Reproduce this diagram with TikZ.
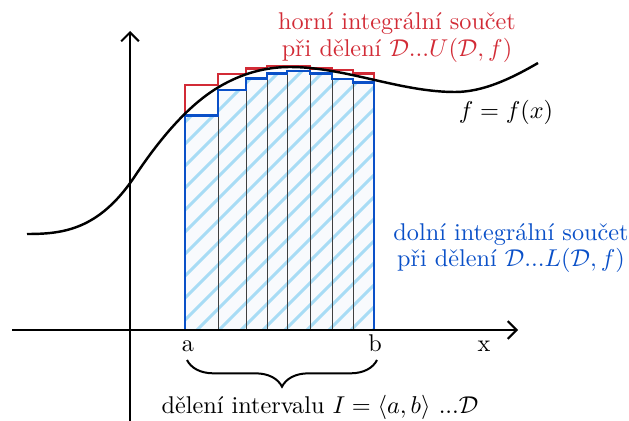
\documentclass[tikz,border=0pt]{standalone}
\usepackage{fontspec}
\usetikzlibrary{arrows.meta,decorations.pathreplacing}
\definecolor{sumred}{HTML}{D22B36}
\definecolor{sumblue}{HTML}{0A50C8}
\definecolor{hatchblue}{HTML}{A8DCF5}

\begin{document}
\begin{tikzpicture}[
  x=0.45pt, y=-0.45pt,
  font=\fontsize{10.9}{11.8}\selectfont,
  >={Straight Barb[length=4pt,width=8pt]},
  axis/.style={->, line width=0.9pt},
  upper/.style={draw=sumred, line width=1.1pt},
  lower/.style={draw=sumblue, line width=1.1pt},
  graph/.style={line width=1.1pt},
  part/.style={draw=black!75, line width=0.45pt},
  hatchline/.style={draw=hatchblue, line width=1.4pt},
  note/.style={align=center, inner sep=0pt},
  tick/.style={anchor=base, inner sep=0pt},
  brace/.style={decorate, decoration={brace, amplitude=12pt}, line width=0.9pt}
]
\useasboundingbox (0,0) rectangle (629,421);

% hatched lower sum
\begin{scope}
  \clip (185,330) |- (218,115.7) |- (246,90) |- (267,78.3) |- (287,73.3) |- (310,71) |- (332,73.3) |- (353,79) |- (374,82.3) -- (374,330) -- cycle;
  \fill[sumblue!3] (180,60) rectangle (380,335);
  \foreach \i in {-160,-138,...,380}
    \draw[hatchline] (\i,335) -- ++(270,-270);
\end{scope}

% partition
\foreach \x/\h in {218/90, 246/78.3, 267/73.3, 287/71, 310/71, 332/73.3, 353/79}
  \draw[part] (\x,330) -- (\x,\h);

% upper and lower sums
\draw[upper] (185,330) |- (218,85) |- (246,74) |- (267,68.3) |- (287,66) |- (310,66) |- (332,68.3) |- (353,70) |- (374,73.5) -- (374,330);
\draw[lower] (185,330) |- (218,115.7) |- (246,90) |- (267,78.3) |- (287,73.3) |- (310,71) |- (332,73.3) |- (353,79) |- (374,82.3) -- (374,330) -- cycle;

% graph of f
\draw[graph] (27,234) .. controls (63,234) and (99,230) .. (135,176)
  .. controls (162.7,134.5) and (190.3,104.1) .. (218,87.5)
  .. controls (242,73.1) and (266,67) .. (290,67)
  .. controls (345,67) and (400,92) .. (455,92)
  .. controls (482.7,92) and (510.3,79.1) .. (538,63);

% axes
\coordinate (xstart) at (12,330);
\coordinate (xend) at (518,330);
\coordinate (ystart) at (130,421);
\coordinate (yend) at (130,31);
\draw[axis] (xstart) -- (xend);
\draw[axis] (ystart) -- (yend);

\node[tick] (a) at (188,351) {a};
\node[tick] (b) at (375,351) {b};
\node[tick] (xlabel) at (484,351) {x};
\node[tick] (fx) at (506,118.5) {$f=f(x)$};

\node[note, text=sumred] (uppertext) at (397,37.7) {horní integrální součet\\při dělení $\mathcal{D}...U(\mathcal{D},f)$};
\node[note, text=sumblue] (lowertext) at (511,247.7) {dolní integrální součet\\při dělení $\mathcal{D}...L(\mathcal{D},f)$};

\coordinate (bracer) at (377,360);
\coordinate (bracel) at (187,360);
\draw[brace] (bracer) -- (bracel);
\node[tick] (deleni) at (320,413) {dělení intervalu $I=\langle a,b\rangle$ ...$\mathcal{D}$};
\end{tikzpicture}
\end{document}
